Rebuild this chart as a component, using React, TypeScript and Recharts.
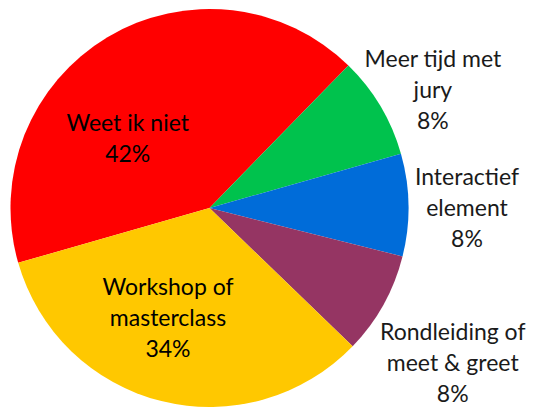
import React from "react";
import { PieChart, Pie, Cell } from "recharts";

const categories = [
  "Weet ik niet",
  "Meer tijd met jury",
  "Interactief element",
  "Rondleiding of meet & greet",
  "Workshop of masterclass",
];
const shares = [41.7, 8.3, 8.3, 8.3, 33.3];
const percentLabels = ["42%", "8%", "8%", "8%", "34%"];
const labelLines = [
  ["Weet ik niet"],
  ["Meer tijd met", "jury"],
  ["Interactief", "element"],
  ["Rondleiding of", "meet & greet"],
  ["Workshop of", "masterclass"],
];

const colors = ["#FF0000", "#00C24D", "#006CD9", "#953563", "#FFC800"];

// label placement relative to slice: radius factor and angle shift (degrees)
const labelPlacement = [
  { r: 0.54, dA: 18.7 },
  { r: 1.27, dA: -2.9 },
  { r: 1.294, dA: -0.8 },
  { r: 1.45, dA: -3.5 },
  { r: 0.59, dA: -6.7 },
];

const FONT = "Lato, 'Open Sans', sans-serif";
const FONT_SIZE = 23;
const LINE = 31;
const CAP = 16;

const data = categories.map((name, i) => ({ name, value: shares[i] }));

const RAD = Math.PI / 180;

const renderLabel = (props: any) => {
  const { cx, cy, midAngle, outerRadius, index } = props;
  const p = labelPlacement[index];
  const ang = (midAngle + p.dA) * RAD;
  const r = outerRadius * p.r;
  const x = cx + r * Math.cos(ang);
  const y = cy - r * Math.sin(ang);
  const lines = [...labelLines[index], percentLabels[index]];
  const n = lines.length;
  const firstBaseline = y - ((n - 1) * LINE) / 2 + CAP / 2;
  const inside = p.r < 1;
  return (
    <text
      key={`lbl-${index}`}
      x={x}
      y={firstBaseline}
      textAnchor="middle"
      fontFamily={FONT}
      fontSize={FONT_SIZE}
      fill={inside ? "#000000" : "#1a1a1a"}
    >
      {lines.map((t, i) => (
        <tspan key={i} x={x} y={firstBaseline + i * LINE}>
          {t}
        </tspan>
      ))}
    </text>
  );
};

export default function App() {
  return (
    <div style={{ position: "absolute", left: 0, top: 0, width: 533, height: 407, background: "#ffffff" }}>
      <PieChart width={533} height={407} margin={{ top: 0, right: 0, bottom: 0, left: 0 }}>
        <Pie
          data={data}
          dataKey="value"
          nameKey="name"
          cx={209.5}
          cy={208}
          outerRadius={199}
          startAngle={196}
          endAngle={-164}
          stroke="none"
          label={renderLabel}
          labelLine={false}
          isAnimationActive={false}
        >
          {data.map((d, i) => (
            <Cell key={d.name} fill={colors[i]} />
          ))}
        </Pie>
      </PieChart>
    </div>
  );
}
